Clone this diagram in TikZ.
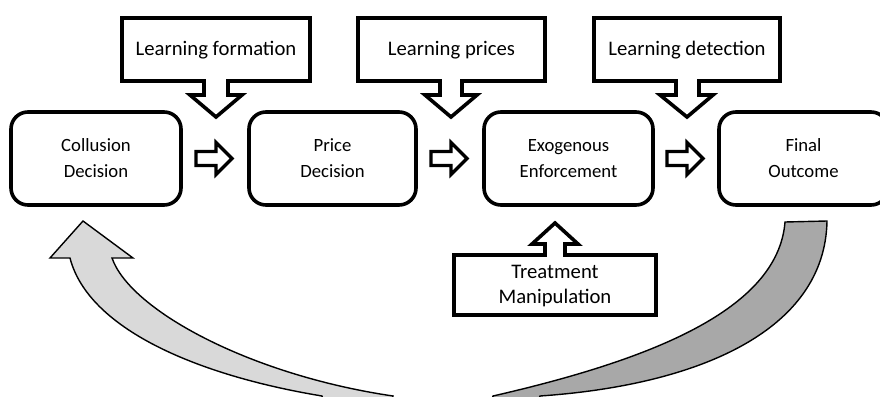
\documentclass[tikz,border=0pt]{standalone}
\usepackage{fontspec}
\setmainfont{Carlito}
\usetikzlibrary{calc}
\definecolor{loopfrontcol}{HTML}{D9D9D9}
\definecolor{loopbackcol}{HTML}{A8A8A8}
\tikzset{
  stage/.style={draw, line width=3.6pt, rounded corners=17pt, minimum height=93pt,
    align=center, inner sep=0pt, font=\fontsize{18.7pt}{26pt}\selectfont},
  callout/.style={draw, line width=3.6pt, fill=white, line join=miter},
  calltext/.style={align=center, inner sep=0pt, font=\fontsize{20.7pt}{25pt}\selectfont},
  flowarrow/.style={draw, line width=3.3pt, fill=white, line join=miter},
  loopfront/.style={draw, line width=1.4pt, fill=loopfrontcol, line join=miter},
  loopback/.style={draw, line width=1.4pt, fill=loopbackcol, line join=miter},
  pics/rarrow/.style={code={
    \draw[flowarrow] (-19,-7) -- (1,-7) -- (1,-16) -- (17,0) -- (1,16) -- (1,7) -- (-19,7) -- cycle;}}
}
\begin{document}
\begin{tikzpicture}[x=1pt, y=-1pt]
\useasboundingbox (0,0) rectangle (880,396);
\clip (0,0) rectangle (880,396);

% stages of the game
\node[stage, minimum width=170pt] (collusion) at (96,158.5) {Collusion\\Decision};
\node[stage, minimum width=167pt] (price) at (332.5,158.5) {Price\\Decision};
\node[stage, minimum width=169pt] (enforce) at (568.5,158.5) {Exogenous\\Enforcement};
\node[stage, minimum width=169pt] (outcome) at (803.5,158.5) {Final\\Outcome};

% block arrows between the stages
\pic at ($(collusion.east)!0.5!(price.west)$) {rarrow};
\pic at ($(price.east)!0.5!(enforce.west)$) {rarrow};
\pic at ($(enforce.east)!0.5!(outcome.west)$) {rarrow};

% learning callouts pointing down
\draw[callout] (122,18) -- (310,18) -- (310,81) -- (228,81) -- (228,95) -- (242,95)
  -- (216,117) -- (190,95) -- (204,95) -- (204,81) -- (122,81) -- cycle;
\node[calltext] (lform) at (216,50) {Learning formation};

\draw[callout] (358,18) -- (545,18) -- (545,81) -- (462,81) -- (462,95) -- (477,95)
  -- (451,117) -- (425,95) -- (440,95) -- (440,81) -- (358,81) -- cycle;
\node[calltext] (lprice) at (451.5,50) {Learning prices};

\draw[callout] (594,18) -- (780,18) -- (780,81) -- (699,81) -- (699,95) -- (713,95)
  -- (687,117) -- (660,95) -- (676,95) -- (676,81) -- (594,81) -- cycle;
\node[calltext] (ldetect) at (687,50) {Learning detection};

% treatment callout pointing up
\draw[callout] (454,315) -- (656,315) -- (656,255) -- (565,255) -- (565,244) -- (578,244)
  -- (555,223) -- (532,244) -- (545,244) -- (545,255) -- (454,255) -- cycle;
\node[calltext] (treat) at (555,286) {Treatment\\Manipulation};

% feedback loop: back side of the curved arrow
\draw[loopback] (785,222) -- (827,221) .. controls (825,330) and (700,385) .. (540,396)
  -- (535,412) -- (488,412) -- (493,396) .. controls (650,360) and (778,310) .. (785,222) -- cycle;

% feedback loop: front side with the arrow head
\draw[loopfront] (322,396) .. controls (195,375) and (88,328) .. (70,258) -- (50,258)
  -- (83,221) -- (133,258) -- (112,258) .. controls (130,310) and (250,375) .. (393,396)
  -- (390,412) -- (325,412) -- cycle;
\end{tikzpicture}
\end{document}
